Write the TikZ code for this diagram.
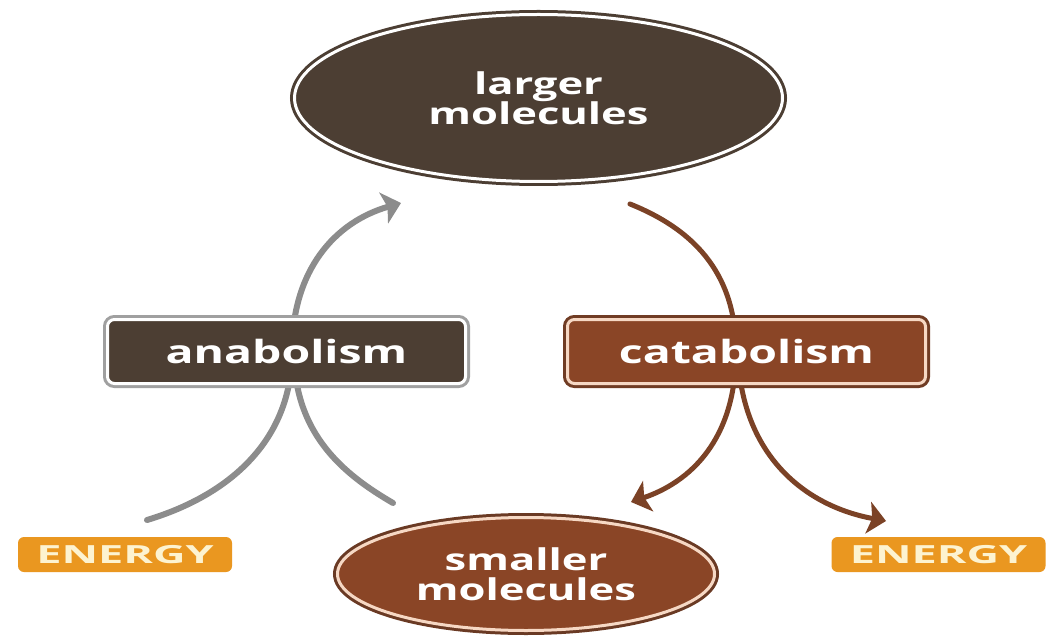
\documentclass[tikz,border=0pt]{standalone}
\usepackage{fontspec}
\newfontfamily\lblfont[FakeStretch=1.45]{Open Sans}
\newfontfamily\enfont[FakeStretch=1.8]{Open Sans}
\usetikzlibrary{arrows.meta,backgrounds,shapes.geometric}
\definecolor{darkb}{HTML}{4C3E33}
\definecolor{rust}{HTML}{8A4526}
\definecolor{rustline}{HTML}{6A3A24}
\definecolor{peach}{HTML}{F6D8C4}
\definecolor{graybox}{HTML}{A0A0A0}
\definecolor{grayarr}{HTML}{8C8C8C}
\definecolor{brownarr}{HTML}{7B4226}
\definecolor{orng}{HTML}{EA9720}
\definecolor{cream}{HTML}{FDF3D0}
\tikzset{
  ellbase/.style={ellipse, inner sep=0pt, align=center, text=white,
    font=\lblfont\bfseries\fontsize{30}{30}\selectfont, line width=3pt},
  bigell/.style={ellbase, minimum width=488pt, minimum height=167pt,
    fill=darkb, draw=white, preaction={draw=darkb, line width=9pt}},
  smallell/.style={ellbase, minimum width=377pt, minimum height=113pt,
    fill=rust, draw=peach, preaction={draw=rustline, line width=9pt}},
  boxbase/.style={rectangle, rounded corners=7pt, minimum width=358pt,
    minimum height=64pt, inner sep=0pt, text=white, line width=3pt,
    font=\lblfont\bfseries\fontsize{32}{32}\selectfont},
  anabox/.style={boxbase, fill=darkb, draw=white, preaction={draw=graybox, line width=9pt}},
  catabox/.style={boxbase, fill=rust, draw=peach, preaction={draw=rustline!80!rust, line width=9pt}},
  energybox/.style={rectangle, rounded corners=6pt, fill=orng, minimum width=214pt,
    minimum height=35pt, inner sep=0pt, text=cream,
    font=\enfont\bfseries\fontsize{25}{25}\selectfont},
  grayline/.style={draw=grayarr, line width=6pt, line cap=round},
  brownline/.style={draw=brownarr, line width=5pt, line cap=round},
  tip/.style={-{Stealth[length=18pt,width=32pt,inset=4pt]}}
}
\begin{document}
\begin{tikzpicture}[x=1pt,y=-1pt]
\useasboundingbox (0,0) rectangle (1056,636);
\node[bigell] (large) at (538.5,98) {larger\\molecules};
\node[anabox] (anab) at (286.5,351.5) {anabolism};
\node[catabox] (cata) at (746.5,351.5) {catabolism};
\node[smallell] (small) at (526,574) {smaller\\molecules};
\node[energybox] (enL) at (125,554.5) {ENERGY};
\node[energybox] (enR) at (938.5,554.5) {ENERGY};
\coordinate (gA) at (147,520);
\coordinate (gB) at (393,503);
\coordinate (gT) at (401,203);
\coordinate (bT) at (630,204);
\coordinate (bL) at (631,502);
\coordinate (bR) at (886,521);
\begin{scope}[on background layer]
\fill[white] (0,0) rectangle (1056,636);
\draw[grayline, tip] (gA) .. controls (230,495) and (292,440) .. ([xshift=5.5pt]anab.center)
  .. controls (292,270) and (335,222) .. (gT);
\draw[grayline] (gB) .. controls (345,475) and (294,435) .. ([xshift=7.5pt]anab.center);
\draw[brownline, tip] (bT) .. controls (690,228) and (736,270) .. ([xshift=-10.5pt]cata.center)
  .. controls (736,440) and (690,482) .. (bL);
\draw[brownline, tip] ([xshift=-8.5pt]cata.center) .. controls (740,450) and (800,505) .. (bR);
\end{scope}
\end{tikzpicture}
\end{document}
